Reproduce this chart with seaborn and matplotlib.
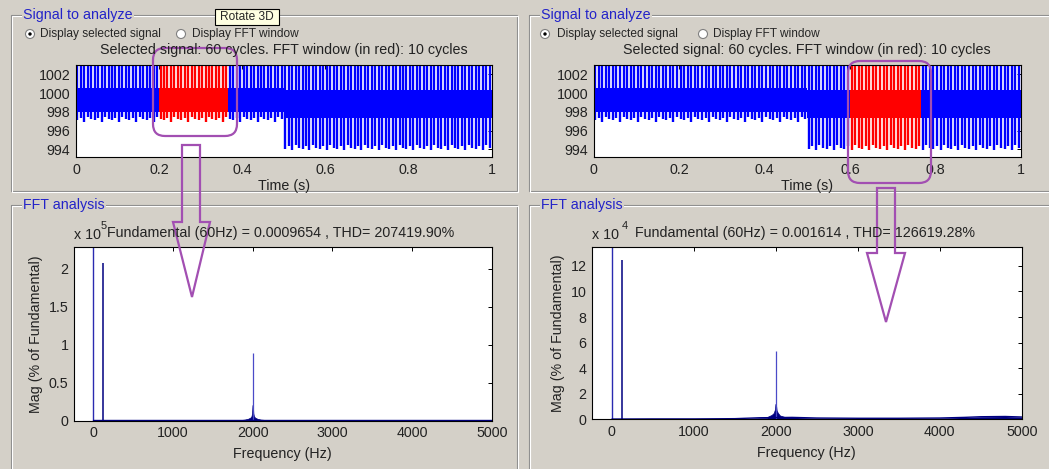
import numpy as np
import seaborn as sns
import matplotlib.pyplot as plt
from matplotlib.patches import Rectangle, Circle, FancyBboxPatch, Polygon
from matplotlib.ticker import FormatStrFormatter

# ---- data ----
# time signal: 60 cycles in 1 s, two visible stripes per cycle
sig_cycles = 60
stripes_per_cycle = 2
seg_start = [0.0, 0.5]
seg_end = [0.5, 1.0]
seg_peak_hi = [1003.0, 1003.0]
seg_peak_lo = [997.1, 994.1]
seg_core_hi = [1000.5, 1000.3]
seg_core_lo = [998.0, 997.4]
lo_jitter = [0.0, 0.3, -0.2, 0.4, 0.1]   # small spread of the stripe lower ends
win_start = [0.2, 0.6]                    # FFT window start (left, right panel)
win_cycles = 10

# FFT spectra (left: x1e5, right: x1e4)
fft_freq = [0, 120, 2000]
fft_mag_left = [2.28, 2.08, 0.885]
fft_mag_right = [13.5, 12.44, 5.33]

cl_freq_left = [1860, 1900, 1940, 1970, 1985, 1992, 1997, 2000, 2003, 2008, 2015, 2030, 2060, 2100, 2155]
cl_mag_left = [0.01, 0.015, 0.025, 0.04, 0.06, 0.1, 0.2, 0.21, 0.2, 0.1, 0.06, 0.04, 0.025, 0.015, 0.01]
cl_freq_right = [1900, 1950, 1975, 1990, 1995, 2000, 2005, 2010, 2025, 2050, 2100]
cl_mag_right = [0.2, 0.35, 0.5, 0.8, 1.2, 1.2, 1.0, 0.7, 0.5, 0.3, 0.2]

floor_freq = [0, 500, 1000, 1500, 1800, 2200, 2500, 3000, 3500, 4000, 4300, 4500, 4800, 5000]
floor_left = [0.008] * 14
floor_right = [0.02, 0.03, 0.03, 0.05, 0.12, 0.15, 0.1, 0.08, 0.08, 0.1, 0.15, 0.2, 0.22, 0.18]

fft_titles = ["Fundamental (60Hz) = 0.0009654 , THD= 207419.90%",
              "Fundamental (60Hz) = 0.001614 , THD= 126619.28%"]
fft_exp = ["5", "4"]

sns.set_style("white")
plt.rcParams['font.family'] = ['Liberation Sans', 'DejaVu Sans']

W, H = 1049, 469
BG = '#d4d0c8'
PURPLE = '#a24fb2'
FS = 10.3
fig = plt.figure(figsize=(W / 100, H / 100), dpi=100, facecolor=BG)


def px_axes(x0, y0, x1, y1):
    return fig.add_axes([x0 / W, 1 - y1 / H, (x1 - x0) / W, (y1 - y0) / H], zorder=1)


def style(ax):
    ax.set_facecolor('white')
    for s in ax.spines.values():
        s.set_color('black')
        s.set_linewidth(0.8)
    ax.tick_params(direction='in', length=3, width=0.7, top=True, right=True,
                   labelsize=FS, pad=4, colors='black', labelcolor='#222222')


def signal_panel(ax, wstart):
    n = sig_cycles * stripes_per_cycle
    wend = wstart + win_cycles / sig_cycles
    for k in range(n):
        t = (k + 0.4) / n
        i = 0 if t < seg_end[0] else 1
        lo = seg_peak_lo[i] + lo_jitter[k % len(lo_jitter)]
        c = 'red' if wstart <= t <= wend else 'blue'
        ax.vlines(t, lo, seg_peak_hi[i], colors=c, lw=1.7)
    for i in range(2):
        ax.fill_between([seg_start[i], seg_end[i]], seg_core_lo[i], seg_core_hi[i], color='blue', lw=0)
    i = 0 if wstart < 0.5 else 1
    ax.fill_between([wstart, wend], seg_core_lo[i], seg_core_hi[i], color='red', lw=0)
    ax.set_xlim(0, 1)
    ax.set_ylim(993.2, 1003)
    ax.set_xticks([0, 0.2, 0.4, 0.6, 0.8, 1])
    ax.set_yticks([994, 996, 998, 1000, 1002])
    ax.xaxis.set_major_formatter(FormatStrFormatter('%g'))
    ax.set_xlabel('Time (s)', fontsize=FS, labelpad=2, color='#222222')
    style(ax)


def fft_panel(ax, mags, cf, cm, fl, ylim, yticks):
    ax.vlines(fft_freq[0], 0, mags[0], colors='#2a2ab0', lw=1.0)
    ax.vlines(fft_freq[1], 0, mags[1], colors='#000080', lw=1.1)
    ax.vlines(fft_freq[2], 0, mags[2], colors='#4a4ac8', lw=0.9)
    ax.fill_between(cf, 0, cm, color='#000080', lw=0.5)
    ax.fill_between(floor_freq, 0, fl, color='#000080', lw=0)
    sns.lineplot(x=floor_freq, y=fl, ax=ax, color='#000080', lw=1.0)
    ax.set_xlim(-243, 5000)
    ax.set_ylim(*ylim)
    ax.set_xticks([0, 1000, 2000, 3000, 4000, 5000])
    ax.set_yticks(yticks)
    ax.yaxis.set_major_formatter(FormatStrFormatter('%g'))
    ax.set_xlabel('Frequency (Hz)', fontsize=FS, labelpad=5, color='#222222')
    ax.set_ylabel('Mag (% of Fundamental)', fontsize=FS, labelpad=4, color='#222222')
    style(ax)


# ---- GUI frames underneath the plots ----
under = fig.add_axes([0, 0, 1, 1], zorder=0)
under.set_xlim(0, W)
under.set_ylim(H, 0)
under.axis('off')


def groupbox(x0, y0, x1, y1, title):
    under.add_patch(Rectangle((x0, y0), x1 - x0, y1 - y0, fill=False, ec='#8a8a8a', lw=0.8))
    under.add_patch(Rectangle((x0 + 1, y0 + 1), x1 - x0, y1 - y0, fill=False, ec='white', lw=0.8))
    under.text(x0 + 12, y0, title, color='#2323c8', va='center', ha='left', fontsize=FS,
               bbox=dict(fc=BG, ec='none', pad=1))


groupbox(11, 15, 517, 191, 'Signal to analyze')
groupbox(529, 15, 1060, 191, 'Signal to analyze')
groupbox(11, 205, 517, 480, 'FFT analysis')
groupbox(529, 205, 1060, 480, 'FFT analysis')

ax1 = px_axes(76, 65, 491.7, 157)
signal_panel(ax1, win_start[0])
ax2 = px_axes(593.7, 65, 1021, 157)
signal_panel(ax2, win_start[1])
ax3 = px_axes(74, 247.3, 491.7, 420.7)
fft_panel(ax3, fft_mag_left, cl_freq_left, cl_mag_left, floor_left, (0, 2.28), [0, 0.5, 1, 1.5, 2])
ax4 = px_axes(592, 246.7, 1021.7, 419.3)
fft_panel(ax4, fft_mag_right, cl_freq_right, cl_mag_right, floor_right, (0, 13.5), [0, 2, 4, 6, 8, 10, 12])

# ---- overlay: texts, radio buttons, markup ----
ov = fig.add_axes([0, 0, 1, 1], zorder=10)
ov.set_xlim(0, W)
ov.set_ylim(H, 0)
ov.axis('off')

for cx1, tx1, cx2, tx2 in [(30, 40, 181, 192), (545, 557, 703, 713)]:
    ov.add_patch(Circle((cx1, 34), 4.5, fc='white', ec='#808080', lw=0.8))
    ov.add_patch(Circle((cx1, 34), 1.7, fc='black', ec='none'))
    ov.add_patch(Circle((cx2, 34), 4.5, fc='white', ec='#808080', lw=0.8))
    ov.text(tx1, 34, 'Display selected signal', fontsize=8.6, va='center', ha='left')
    ov.text(tx2, 34, 'Display FFT window', fontsize=8.6, va='center', ha='left')

for cx in [283.5, 807]:
    ov.text(cx, 50, 'Selected signal: 60 cycles. FFT window (in red): 10 cycles',
            fontsize=FS, ha='center', va='center', color='#222222')

for (xx, xe, cx), ttl, ex in zip([(74, 101, 281), (592, 622, 805)], fft_titles, fft_exp):
    ov.text(xx, 235, 'x 10', fontsize=FS, ha='left', va='center', color='#222222')
    ov.text(xe, 226, ex, fontsize=8, ha='left', va='center', color='#222222')
    ov.text(cx, 232.5, ttl, fontsize=FS, ha='center', va='center', color='#222222')

# purple markup: rounded boxes and hollow arrows
for (x0, y0, x1, y1) in [(153, 48, 237, 136), (848, 61, 931, 183)]:
    r = 12
    ov.add_patch(FancyBboxPatch((x0 + r, y0 + r), x1 - x0 - 2 * r, y1 - y0 - 2 * r,
                                boxstyle='round,pad=%d' % r, fill=False, ec=PURPLE, lw=1.6))

for (sl, sr, top, sh, hl, hr, tip) in [(182, 200, 145, 222, 173, 210, (192, 297)),
                                        (877, 895, 188, 253, 867, 905, (886, 322))]:
    pts = [(sl, top), (sr, top), (sr, sh), (hr, sh), tip, (hl, sh), (sl, sh)]
    ov.add_patch(Polygon(pts, closed=True, fill=False, ec=PURPLE, lw=1.6))

# tooltip
ov.add_patch(Rectangle((215, 9), 64, 16, fc='#ffffe1', ec='black', lw=0.8))
ov.text(247, 17, 'Rotate 3D', fontsize=8.6, ha='center', va='center')

fig.savefig('out.png', dpi=100, facecolor=BG)
